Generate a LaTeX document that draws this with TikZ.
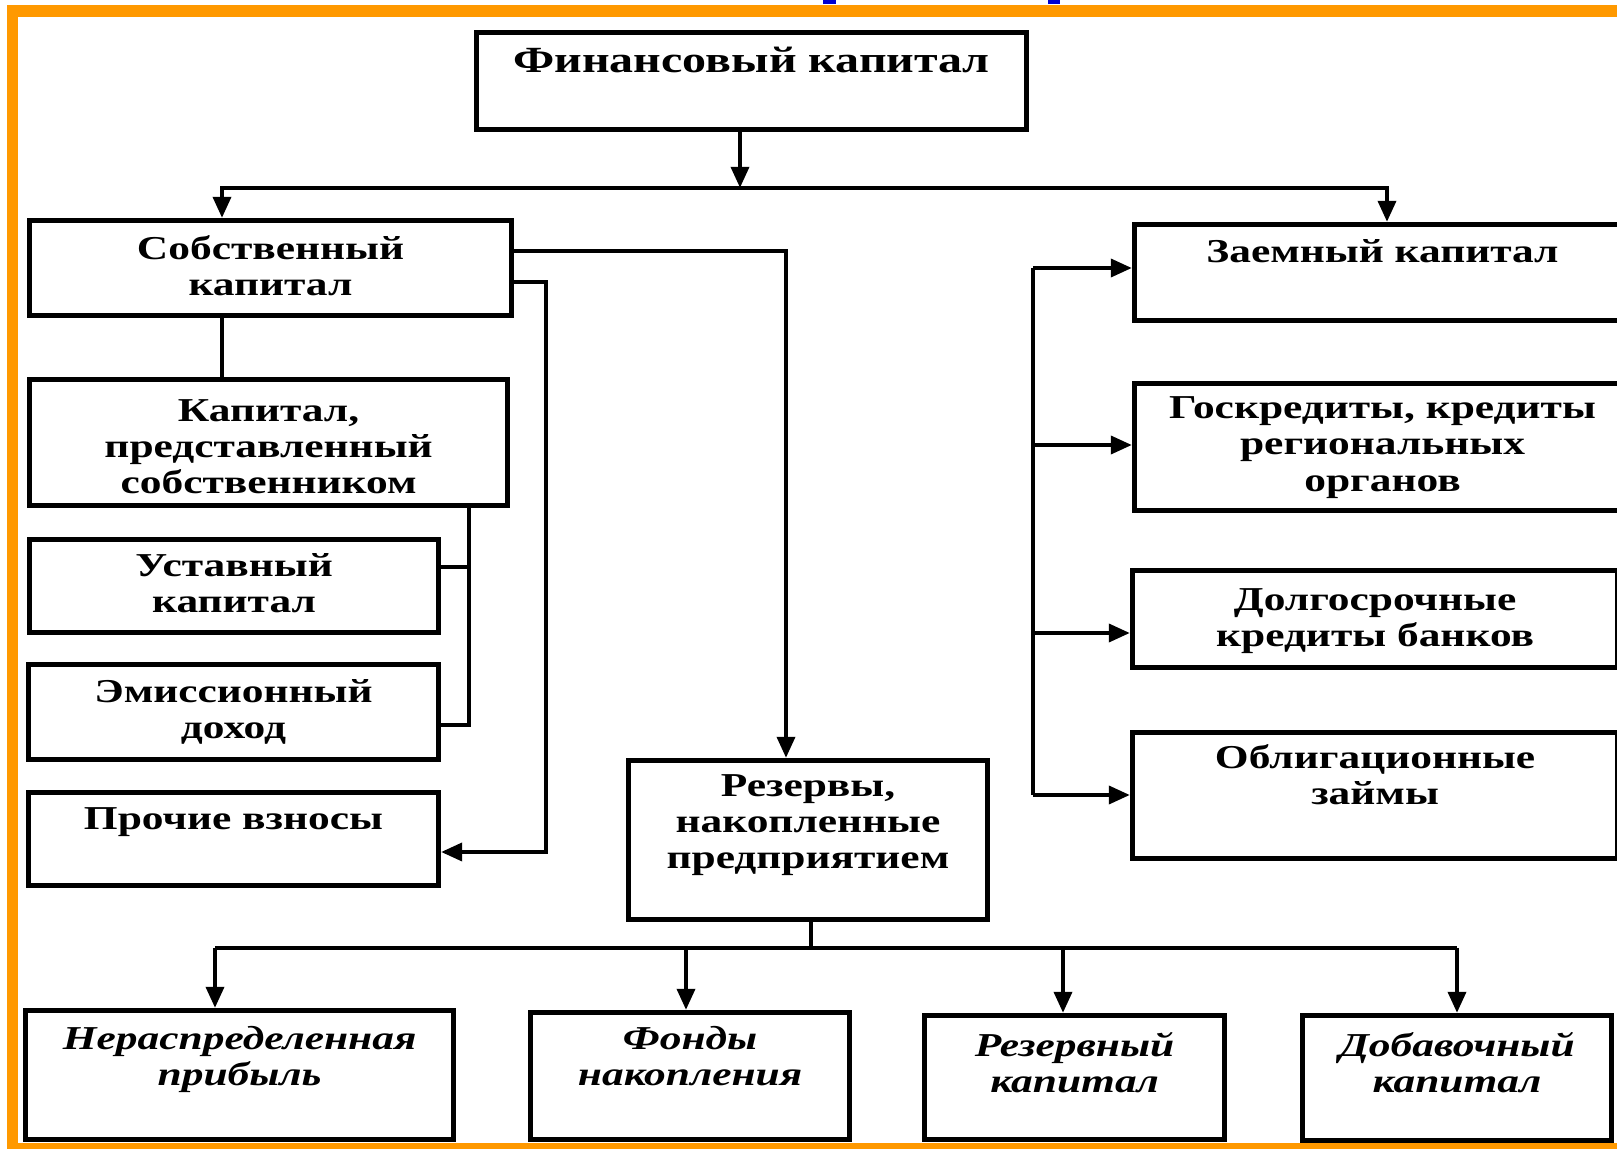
\documentclass[tikz,border=0pt]{standalone}
\usepackage{fontspec}
\setmainfont{Liberation Serif}[FakeStretch=1.3]
\usetikzlibrary{arrows.meta}
\definecolor{frameorange}{RGB}{255,153,0}
\definecolor{titleblue}{RGB}{0,0,210}
\tikzset{
  blk/.style={draw, line width=1.4pt, inner sep=0pt, align=center, anchor=north west,
    font=\fontsize{9.5}{10.3}\selectfont\bfseries},
  blkit/.style={blk, font=\fontsize{9.5}{10.3}\selectfont\bfseries\itshape},
  arr/.style={-{Triangle[length=6pt,width=5pt]}}
}
\begin{document}
\begin{tikzpicture}[x=0.01cm, y=-0.01cm, line width=1.3pt]
    \useasboundingbox (0,0) rectangle (1617,1149);
    \clip (0,0) rectangle (1617,1149);
    % frame
    \fill[frameorange] (7,5) rectangle (1617,17);
    \fill[frameorange] (7,5) rectangle (18,1149);
    \fill[frameorange] (7,1143) rectangle (1617,1149);
    \fill[titleblue] (823,0) rectangle (836,4);
    \fill[titleblue] (1048,0) rectangle (1060,4);
    % boxes
    \node[blk, minimum width=156.5pt, text height=11.4pt, text depth=16.2pt,
      font=\fontsize{10.5}{11.5}\selectfont\bfseries] (A0_0) at (474,30) {Финансовый капитал};
    \node[blk, minimum width=137.1pt, text height=21.4pt, text depth=5.6pt] (A1_0) at (27,218) {Собственный\\капитал};
    \node[blk, minimum width=136.0pt, text height=32.5pt, text depth=3.3pt] (A2_0) at (27,377) {Капитал,\\представленный\\собственником};
    \node[blk, minimum width=116.4pt, text height=20.8pt, text depth=5.6pt] (A3_0) at (27,537) {Уставный\\капитал};
    \node[blk, minimum width=116.6pt, text height=21.1pt, text depth=5.9pt] (A4_0) at (26,662) {Эмиссионный\\доход};
    \node[blk, minimum width=116.6pt, text height=10.5pt, text depth=15.9pt] (A5_0) at (26,790) {Прочие взносы};
    \node[blk, minimum width=102.1pt, text height=30.8pt, text depth=14.4pt] (A5_1) at (626,758) {Резервы,\\накопленные\\предприятием};
    \node[blk, minimum width=141.1pt, text height=10.8pt, text depth=16.5pt] (A1_2) at (1132,222) {Заемный капитал};
    \node[blk, minimum width=141.1pt, text height=30.6pt, text depth=5.6pt] (A2_2) at (1132,381) {Госкредиты, кредиты\\региональных\\органов};
    \node[blk, minimum width=138.0pt, text height=21.7pt, text depth=5.9pt] (A3_2) at (1130,568) {Долгосрочные\\кредиты банков};
    \node[blk, minimum width=138.0pt, text height=20.5pt, text depth=15.3pt] (A4_2) at (1130,730) {Облигационные\\займы};
    \node[blkit, minimum width=121.8pt, text height=21.4pt, text depth=15.3pt] (A6_0) at (23,1008) {Нераспределенная\\прибыль};
    \node[blkit, minimum width=90.8pt, text height=20.8pt, text depth=15.3pt] (A6_1) at (528,1010) {Фонды\\накопления};
    \node[blkit, minimum width=85.4pt, text height=22.0pt, text depth=13.3pt] (A6_2) at (922,1013) {Резервный\\капитал};
    \node[blkit, minimum width=87.9pt, text height=22.0pt, text depth=13.6pt] (A6_3) at (1300,1013) {Добавочный\\капитал};
    % top split
    \coordinate (s0) at (740,188);
    \coordinate (s0l) at (222,188);
    \coordinate (s0r) at (1387,188);
    \draw[arr] (s0 |- A0_0.south) -- (s0);
    \draw[arr] (s0) -- (s0l) -- (s0l |- A1_0.north);
    \draw[arr] (s0) -- (s0r) -- (s0r |- A1_2.north);
    % own capital
    \coordinate (r1) at (786,251);
    \coordinate (r2) at (546,282);
    \coordinate (r3) at (546,852);
    \draw[arr] (A1_0.east |- r1) -- (r1) -- (r1 |- A5_1.north);
    \draw[arr] (A1_0.east |- r2) -- (r2) -- (r3) -- (r3 -| A5_0.east);
    \draw (s0l |- A1_0.south) -- (s0l |- A2_0.north);
    \coordinate (k0) at (469,725);
    \coordinate (k1) at (469,567);
    \draw (k0 |- A2_0.south) -- (k0) -- (k0 -| A4_0.east);
    \draw (k1) -- (k1 -| A3_0.east);
    % borrowed capital
    \coordinate (b0) at (1033,268);
    \coordinate (b1) at (1033,445);
    \coordinate (b2) at (1033,633);
    \coordinate (b3) at (1033,795);
    \draw (b0) -- (b3);
    \draw[arr] (b0) -- (b0 -| A1_2.west);
    \draw[arr] (b1) -- (b1 -| A2_2.west);
    \draw[arr] (b2) -- (b2 -| A3_2.west);
    \draw[arr] (b3) -- (b3 -| A4_2.west);
    % reserves
    \coordinate (d0) at (811,948);
    \coordinate (d1) at (215,948);
    \coordinate (d2) at (686,948);
    \coordinate (d3) at (1063,948);
    \coordinate (d4) at (1457,948);
    \draw (d0 |- A5_1.south) -- (d0);
    \draw (d1) -- (d4);
    \draw[arr] (d1) -- (d1 |- A6_0.north);
    \draw[arr] (d2) -- (d2 |- A6_1.north);
    \draw[arr] (d3) -- (d3 |- A6_2.north);
    \draw[arr] (d4) -- (d4 |- A6_3.north);
\end{tikzpicture}
\end{document}
